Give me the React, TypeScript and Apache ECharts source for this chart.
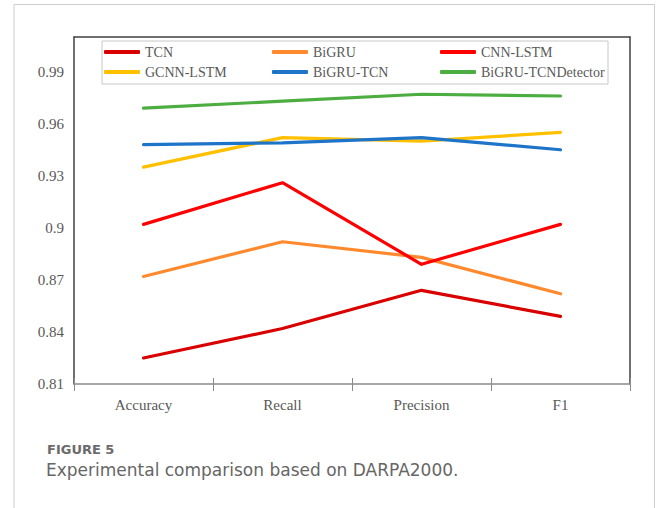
import React, { useEffect, useRef } from "react";
import * as echarts from "echarts";

// Metrics on the horizontal axis
const metrics = ["Accuracy", "Recall", "Precision", "F1"];

// Model names, in legend order
const modelNames = ["TCN", "BiGRU", "CNN-LSTM", "GCNN-LSTM", "BiGRU-TCN", "BiGRU-TCNDetector"];

// Scores per model (Accuracy, Recall, Precision, F1)
const tcnScores = [0.825, 0.842, 0.864, 0.849];
const bigruScores = [0.872, 0.892, 0.883, 0.862];
const cnnLstmScores = [0.902, 0.926, 0.879, 0.902];
const gcnnLstmScores = [0.935, 0.952, 0.95, 0.955];
const bigruTcnScores = [0.948, 0.949, 0.952, 0.945];
const detectorScores = [0.969, 0.973, 0.977, 0.976];

// Value axis range
const yMin = 0.81;
const yMax = 1.01;
const yStep = 0.03;

const lineColors = ["#D90000", "#FF8A2E", "#FF0000", "#FFC000", "#1E74C9", "#4CAE41"];

const figureLabel = "FIGURE 5";
const captionText = "Experimental comparison based on DARPA2000.";

const serif = "'Liberation Serif', 'Times New Roman', serif";
const sans = "'DejaVu Sans', 'Noto Sans', sans-serif";

export default function App() {
  const ref = useRef<HTMLDivElement>(null);

  useEffect(() => {
    if (!ref.current) return;
    const chart = echarts.init(ref.current, null, { renderer: "svg" });

    const allScores = [tcnScores, bigruScores, cnnLstmScores, gcnnLstmScores, bigruTcnScores, detectorScores];

    const series = modelNames.map((name, i) => ({
      name,
      type: "line",
      data: allScores[i],
      xAxisIndex: 0,
      yAxisIndex: 0,
      symbol: "none",
      lineStyle: { color: lineColors[i], width: 3.2, cap: "round", join: "round" },
      itemStyle: { color: lineColors[i] },
      z: 3,
    }));

    chart.setOption({
      animation: false,
      backgroundColor: "#ffffff",
      grid: { left: 74, top: 37, right: 26, bottom: 124, containLabel: false },
      legend: {
        data: modelNames,
        left: 102,
        top: 41,
        width: 504,
        orient: "horizontal",
        icon: "roundRect",
        itemWidth: 36,
        itemHeight: 4,
        itemGap: 0,
        padding: [1, 0, 2, 2],
        borderColor: "#c8c8c8",
        borderWidth: 1,
        textStyle: {
          fontFamily: serif,
          fontSize: 14,
          color: "#595959",
          width: 127,
          height: 20,
          lineHeight: 20,
        },
      },
      xAxis: [
        {
          type: "category",
          data: metrics,
          position: "bottom",
          boundaryGap: true,
          axisLine: { show: true, lineStyle: { color: "#8a8a8a", width: 1.5 } },
          axisTick: { show: true, inside: false, length: 7, lineStyle: { color: "#8a8a8a", width: 1 } },
          axisLabel: { fontFamily: serif, fontSize: 15, color: "#595959", margin: 13 },
          splitLine: { show: false },
        },
        {
          type: "category",
          data: metrics,
          position: "top",
          axisLine: { show: true, lineStyle: { color: "#404040", width: 1.5 } },
          axisTick: { show: false },
          axisLabel: { show: false },
          splitLine: { show: false },
        },
        {
          type: "category",
          data: metrics,
          position: "bottom",
          offset: 0,
          axisLine: { show: false },
          axisTick: { show: true, inside: true, length: 6, lineStyle: { color: "#8a8a8a", width: 1 } },
          axisLabel: { show: false },
          splitLine: { show: false },
        },
      ],
      yAxis: [
        {
          type: "value",
          min: yMin,
          max: yMax,
          interval: yStep,
          axisLine: { show: true, lineStyle: { color: "#404040", width: 1.5 } },
          axisTick: { show: false },
          splitLine: { show: false },
          axisLabel: {
            fontFamily: serif,
            fontSize: 15,
            color: "#595959",
            margin: 10,
            showMaxLabel: false,
            formatter: (v: number) => String(+v.toFixed(2)),
          },
        },
        {
          type: "value",
          min: yMin,
          max: yMax,
          interval: yStep,
          position: "right",
          axisLine: { show: true, lineStyle: { color: "#404040", width: 1.5 } },
          axisTick: { show: false },
          axisLabel: { show: false },
          splitLine: { show: false },
        },
      ],
      series,
      graphic: [
        {
          type: "polyline",
          shape: { points: [[14, 508], [14, 4.5], [654.5, 4.5], [654.5, 508]] },
          style: { stroke: "#cdcdcd", lineWidth: 1, fill: "none" },
          silent: true,
        },
        {
          type: "text",
          left: 47,
          top: 443,
          style: { text: figureLabel, font: `bold 13px ${sans}`, fill: "#6b6b6b" },
        },
        {
          type: "text",
          left: 46,
          top: 461,
          style: { text: captionText, font: `17px ${sans}`, fill: "#666666" },
        },
      ],
    });

    return () => chart.dispose();
  }, []);

  return (
    <div
      ref={ref}
      style={{ position: "absolute", left: 0, top: 0, width: 656, height: 508 }}
    />
  );
}
